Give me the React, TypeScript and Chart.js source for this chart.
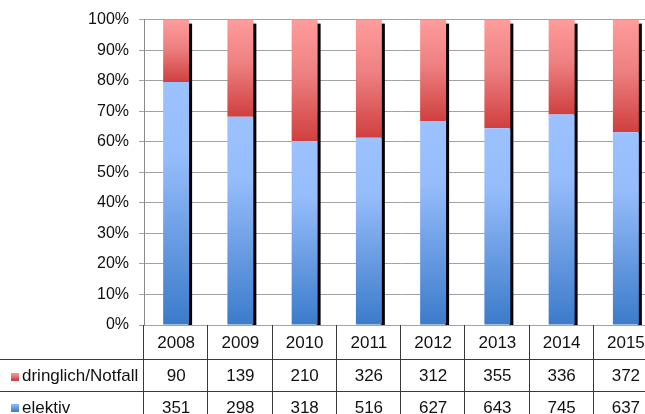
import { useEffect, useRef } from "react";
import { Chart, registerables } from "chart.js";

Chart.register(...registerables);

const years = ["2008", "2009", "2010", "2011", "2012", "2013", "2014", "2015"];
const dringlich = [90, 139, 210, 326, 312, 355, 336, 372];
const elektiv = [351, 298, 318, 516, 627, 643, 745, 637];
const yTicks = [0, 10, 20, 30, 40, 50, 60, 70, 80, 90, 100];

const seriesNames = ["elektiv", "dringlich/Notfall"];

const totals = years.map((_, i) => dringlich[i] + elektiv[i]);
const elektivPct = elektiv.map((v, i) => (v / totals[i]) * 100);
const dringlichPct = dringlich.map((v, i) => (v / totals[i]) * 100);

const FONT = "'Liberation Sans', Arial, sans-serif";

function redGradient(ctx: CanvasRenderingContext2D, y0: number, y1: number) {
  const g = ctx.createLinearGradient(0, y0, 0, y1);
  g.addColorStop(0, "#ff9c9c");
  g.addColorStop(0.45, "#ee8080");
  g.addColorStop(1, "#d03f3f");
  return g;
}

function blueGradient(ctx: CanvasRenderingContext2D, y0: number, y1: number) {
  const g = ctx.createLinearGradient(0, y0, 0, y1);
  g.addColorStop(0, "#9bc1ff");
  g.addColorStop(0.3, "#96bdfb");
  g.addColorStop(1, "#3b7bca");
  return g;
}

// Black drop shadow to the right of each stacked column
const shadowPlugin = {
  id: "columnShadow",
  beforeDatasetsDraw(chart: any) {
    const ctx = chart.ctx;
    const y = chart.scales.y;
    const meta = chart.getDatasetMeta(1);
    const bottom = y.getPixelForValue(0);
    ctx.save();
    ctx.fillStyle = "#000";
    meta.data.forEach((el: any) => {
      const right = el.x + el.width / 2;
      const top = y.getPixelForValue(100);
      ctx.fillRect(right - 1, top + 4, 4, bottom - top - 4);
    });
    ctx.restore();
  },
};

// Data table under the plot: year header row plus one row per series
const tablePlugin = {
  id: "dataTable",
  afterDraw(chart: any) {
    const ctx = chart.ctx;
    const area = chart.chartArea;
    const colW = (area.right - area.left) / years.length;
    const rowTop = area.bottom;
    const rows = [rowTop, rowTop + 34, rowTop + 66, rowTop + 98];
    ctx.save();
    ctx.strokeStyle = "#3a3a3a";
    ctx.lineWidth = 1;
    ctx.beginPath();
    for (let i = 0; i <= years.length; i++) {
      const x = Math.round(area.left + i * colW) - 0.5;
      ctx.moveTo(x, rowTop);
      ctx.lineTo(x, chart.height);
    }
    [rows[1], rows[2]].forEach((ry) => {
      ctx.moveTo(0, ry + 0.5);
      ctx.lineTo(area.right, ry + 0.5);
    });
    ctx.stroke();

    ctx.fillStyle = "#111";
    ctx.font = `17px ${FONT}`;
    ctx.textAlign = "center";
    ctx.textBaseline = "middle";
    const centers = rows.slice(0, 3).map((r, i) => (r + rows[i + 1]) / 2 + 1);
    years.forEach((yr, i) => {
      const cx = area.left + (i + 0.5) * colW;
      ctx.fillText(yr, cx, centers[0]);
      ctx.fillText(String(dringlich[i]), cx, centers[1]);
      ctx.fillText(String(elektiv[i]), cx, centers[2]);
    });

    ctx.textAlign = "left";
    ctx.fillText(seriesNames[1], 22, centers[1]);
    ctx.fillText(seriesNames[0], 22, centers[2]);

    ctx.fillStyle = redGradient(ctx, centers[1] - 4, centers[1] + 4);
    ctx.fillRect(11, centers[1] - 3, 8, 8);
    ctx.fillStyle = blueGradient(ctx, centers[2] - 8, centers[2] + 4);
    ctx.fillRect(11, centers[2] - 4, 8, 8);
    ctx.restore();
  },
};

export default function App() {
  const ref = useRef<HTMLCanvasElement | null>(null);

  useEffect(() => {
    document.body.style.margin = "0";
    const canvas = ref.current;
    if (!canvas) return;

    const fill = (which: "red" | "blue") => (c: any) => {
      const chart = c.chart;
      const y = chart.scales?.y;
      if (!chart.chartArea || !y) return which === "red" ? "#e06060" : "#6f9ee8";
      const i = c.dataIndex;
      if (which === "blue") {
        return blueGradient(chart.ctx, y.getPixelForValue(elektivPct[i]), y.getPixelForValue(0));
      }
      return redGradient(chart.ctx, y.getPixelForValue(100), y.getPixelForValue(elektivPct[i]));
    };

    const chart = new Chart(canvas, {
      type: "bar",
      data: {
        labels: years,
        datasets: [
          {
            label: seriesNames[0],
            data: elektivPct,
            backgroundColor: fill("blue"),
            borderWidth: 0,
            categoryPercentage: 1,
            barPercentage: 0.404,
          },
          {
            label: seriesNames[1],
            data: dringlichPct,
            backgroundColor: fill("red"),
            borderWidth: 0,
            categoryPercentage: 1,
            barPercentage: 0.404,
          },
        ],
      },
      options: {
        responsive: false,
        animation: false,
        devicePixelRatio: 1,
        layout: { padding: { top: 17, bottom: 89, left: 0, right: 0 } },
        plugins: {
          legend: { display: false },
          tooltip: { enabled: false },
          title: { display: false },
        },
        scales: {
          x: {
            stacked: true,
            display: false,
          },
          y: {
            stacked: true,
            min: 0,
            max: 100,
            afterFit(scale: any) {
              scale.width = 144;
            },
            afterBuildTicks(scale: any) {
              scale.ticks = yTicks.map((v) => ({ value: v }));
            },
            ticks: {
              callback: (v: any) => `${v}%`,
              color: "#111",
              font: { family: FONT, size: 16 },
              padding: 10,
            },
            grid: {
              color: "#a2a2a2",
              tickLength: 5,
              drawTicks: true,
            },
            border: { display: true, color: "#8a8a8a" },
          },
        },
      },
      plugins: [shadowPlugin, tablePlugin],
    });

    return () => chart.destroy();
  }, []);

  return (
    <div
      style={{
        position: "absolute",
        left: 0,
        top: 0,
        width: 645,
        height: 414,
        overflow: "hidden",
        background: "#fff",
      }}
    >
      <canvas ref={ref} width={658} height={414} style={{ display: "block" }} />
    </div>
  );
}
